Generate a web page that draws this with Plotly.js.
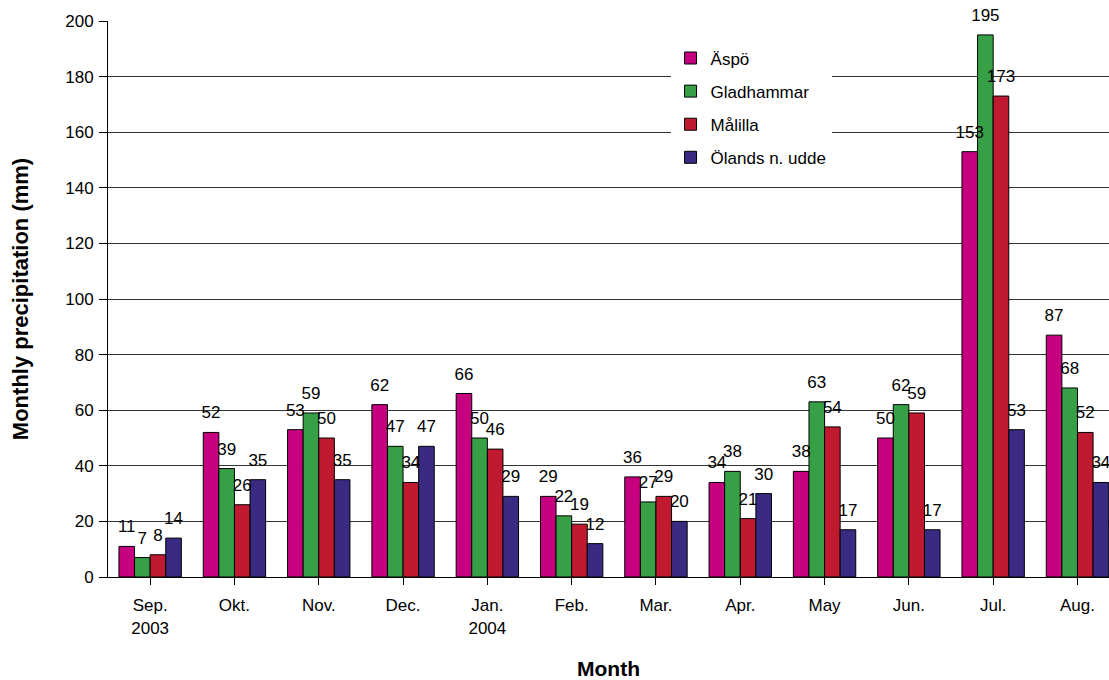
<!DOCTYPE html>
<html>
<head>
<meta charset="utf-8">
<script src="https://cdn.plot.ly/plotly-3.0.1.min.js"></script>
<style>html,body{margin:0;padding:0;overflow:hidden;background:#fff}</style>
</head>
<body>
<div id="chart" style="width:1109px;height:680px"></div>
<script>
const months = ["Sep.<br>2003","Okt.","Nov.","Dec.","Jan.<br>2004","Feb.","Mar.","Apr.","May","Jun.","Jul.","Aug."];
const seriesNames = ["Äspö","Gladhammar","Målilla","Ölands n. udde"];
const aspo = [11,52,53,62,66,29,36,34,38,50,153,87];
const gladhammar = [7,39,59,47,50,22,27,38,63,62,195,68];
const malilla = [8,26,50,34,46,19,29,21,54,59,173,52];
const oland = [14,35,35,47,29,12,20,30,17,17,53,34];
const colors = ["#C6007E","#37A047","#C01A30","#3B2A82"];

const FONT = '"Liberation Sans", Arial, Helvetica, sans-serif';
const values = [aspo, gladhammar, malilla, oland];
const idx = months.map((m,i)=>i);

const bars = values.map((v,k)=>({
  type:'bar',
  name: seriesNames[k],
  legendgroup: 'g'+k,
  x: idx,
  y: v,
  marker: {color: colors[k], line: {color:'#000', width:1}},
  hoverinfo:'none'
}));
const labels = values.map((v,k)=>({
  type:'scatter',
  mode:'markers+text',
  name: seriesNames[k]+' labels',
  showlegend:false,
  x: idx,
  y: v,
  text: v.map(String),
  textposition:'top center',
  cliponaxis:false,
  textfont:{family:FONT, size:17, color:'#000'},
  marker:{size:14, color:'rgba(0,0,0,0)'},
  hoverinfo:'none'
}));

const layout = {
  width:1109, height:680,
  margin:{l:108, r:0, t:21, b:103},
  paper_bgcolor:'#fff', plot_bgcolor:'#fff',
  font:{family:FONT, size:17, color:'#000'},
  barmode:'group',
  bargap:0.26,
  bargroupgap:0,
  scattermode:'group',
  scattergap:0.26,
  showlegend:true,
  legend:{x:0.562, y:0.965, xanchor:'left', yanchor:'top', bgcolor:'#fff',
          font:{size:17}, tracegroupgap:8, itemwidth:30},
  xaxis:{
    tickmode:'array', tickvals: idx, ticktext: months,
    range:[-0.5, 11.374], fixedrange:true,
    showline:true, linecolor:'#000', linewidth:1,
    ticks:'outside', tickson:'boundaries', ticklen:7, tickcolor:'#000',
    ticklabelstandoff:6,
    showgrid:false, zeroline:false,
    tickfont:{size:17},
    title:{text:'<b>Month</b>', font:{size:21}, standoff:26},
    automargin:false
  },
  yaxis:{
    range:[0,200], dtick:20, tick0:0,
    showline:true, linecolor:'#000', linewidth:1,
    ticks:'outside', ticklen:8, tickcolor:'#000',
    ticklabelstandoff:2,
    showgrid:true, gridcolor:'#333', gridwidth:1, zeroline:false,
    tickfont:{size:17},
    title:{text:'<b>Monthly precipitation (mm)</b>', font:{size:22}, standoff:30},
    automargin:false
  }
};

Plotly.newPlot('chart', bars.concat(labels), layout, {displayModeBar:false, staticPlot:true});
</script>
</body>
</html>
